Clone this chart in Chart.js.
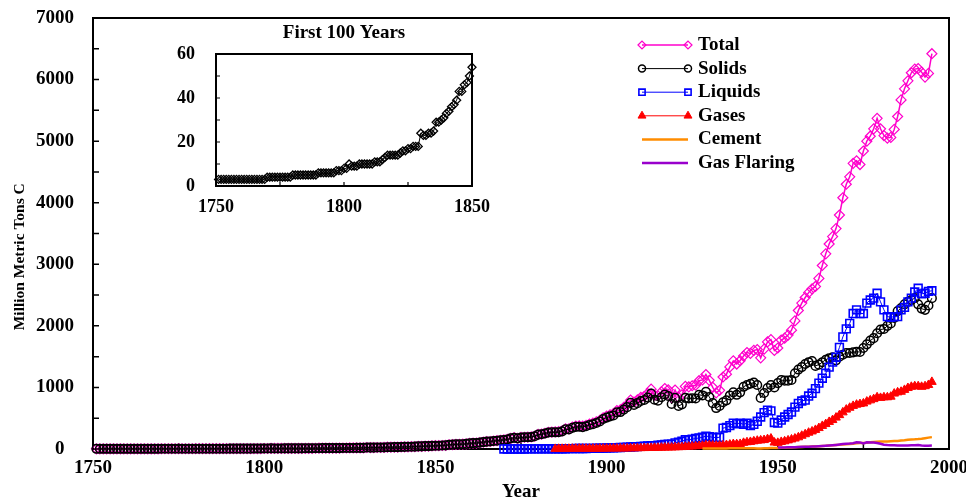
<!DOCTYPE html>
<html>
<head>
<meta charset="utf-8">
<script src="https://cdn.jsdelivr.net/npm/chart.js@4.4.0/dist/chart.umd.min.js"></script>
<style>
html, body { margin: 0; padding: 0; background: #fff; }
#wrap { position: relative; width: 966px; height: 500px; }
#wrap canvas { position: absolute; left: 0; top: 0; }
#inset { pointer-events: none; }
</style>
</head>
<body>
<div id="wrap">
  <canvas id="main" width="966" height="500"></canvas>
  <canvas id="inset" width="966" height="500"></canvas>
</div>
<script>
// ---------------- DATA (million metric tons of carbon per year) ----------------
const seriesNames = ['Total', 'Solids', 'Liquids', 'Gases', 'Cement', 'Gas Flaring'];

const totalStart = 1751;
const totalValues = [
  // 1751-1799
  3,3,3,3,3,3,3,3,3,3,3,3,3,3,3,3,3,3,3,
  4,4,4,4,4,4,4,4,4,4,
  5,5,5,5,5,5,5,5,5,5,
  6,6,6,6,6,6,6,7,7,7,
  // 1800-1850
  8,8,10,9,9,9,10,10,10,10,
  10,10,11,11,11,12,13,14,14,14,
  14,14,15,16,16,17,17,18,18,18,
  24,23,23,24,24,25,29,29,30,31,
  33,34,36,37,39,43,43,46,47,50,
  54,
  // 1851-1899
  54,57,59,69,71,76,77,78,83,91,
  95,97,104,112,119,122,130,135,142,
  147,156,173,184,174,188,191,194,196,210,
  236,243,256,272,275,277,281,295,327,327,
  356,372,374,370,383,406,419,440,465,507,
  // 1900-1949
  533,555,573,625,634,676,718,794,763,797,
  837,856,901,972,874,865,928,983,962,835,
  958,839,881,1016,1009,1027,1035,1109,1123,1210,
  1115,1002,912,953,1169,1215,1333,1432,1380,1434,
  1510,1567,1552,1601,1615,1480,1623,1739,1776,1600,
  // 1950-1995
  1640,1770,1800,1850,1930,2080,2250,2370,2460,2540,
  2600,2640,2770,2980,3170,3330,3450,3580,3800,4080,
  4300,4420,4640,4680,4620,4840,5000,5080,5200,5370,
  5200,5090,5050,5060,5190,5400,5670,5850,5980,6110,
  6170,6180,6120,6040,6100,6420
];

const solidsStart = 1751;
const solidsValues = [
  // 1751-1799
  3,3,3,3,3,3,3,3,3,3,3,3,3,3,3,3,3,3,3,
  4,4,4,4,4,4,4,4,4,4,
  5,5,5,5,5,5,5,5,5,5,
  6,6,6,6,6,6,6,7,7,7,
  // 1800-1850
  8,8,10,9,9,9,10,10,10,10,
  10,10,11,11,11,12,13,14,14,14,
  14,14,15,16,16,17,17,18,18,18,
  24,23,23,24,24,25,29,29,30,31,
  33,34,36,37,39,43,43,46,47,50,
  54,
  // 1851-1869
  54,57,59,69,71,76,77,78,83,91,
  95,97,104,112,119,122,130,135,142,
  // 1870-1899
  146,155,172,183,173,187,190,192,194,207,
  233,239,252,268,271,271,273,287,318,317,
  344,359,361,356,369,391,403,422,446,487,
  // 1900-1949
  510,530,545,595,600,640,680,750,715,745,
  780,795,835,900,800,785,840,885,860,730,
  830,700,725,830,820,825,820,880,870,930,
  845,745,665,700,760,790,870,920,880,920,
  1010,1040,1060,1080,1040,830,910,990,1040,1000,
  // 1950-1995
  1070,1120,1110,1110,1120,1230,1290,1330,1380,1410,
  1430,1350,1370,1410,1450,1475,1490,1440,1500,1530,
  1560,1560,1570,1580,1575,1640,1700,1760,1800,1880,
  1940,1950,2000,2040,2130,2240,2290,2350,2390,2420,
  2450,2350,2280,2260,2330,2450
];

const liquidsStart = 1870;
const liquidsValues = [
  // 1870-1899
  1,1,1,1,1,1,1,2,2,3,
  3,4,4,4,4,4,5,5,5,6,
  7,8,8,9,9,10,11,12,13,14,
  // 1900-1949
  16,18,20,22,25,27,28,33,36,39,
  43,46,50,54,55,60,66,75,78,80,
  100,110,125,150,150,160,170,180,190,210,
  200,190,185,190,340,350,380,420,410,420,
  400,420,380,400,450,520,590,630,620,430,
  // 1950-1995
  420,470,520,560,600,680,740,780,795,860,
  905,980,1070,1150,1230,1330,1410,1490,1650,1820,
  1950,2040,2200,2260,2200,2200,2370,2420,2450,2530,
  2390,2260,2150,2140,2150,2150,2260,2300,2390,2450,
  2550,2610,2520,2530,2560,2570
];

const gasesStart = 1885;
const gasesValues = [
  // 1885-1899
  2,3,3,4,4,5,5,5,5,5,5,5,6,6,6,
  // 1900-1949
  7,7,8,8,9,9,10,11,12,13,
  14,15,16,18,19,20,22,23,24,25,
  28,29,31,36,39,42,45,49,53,60,
  60,58,54,55,60,65,72,80,78,82,
  100,110,115,125,135,140,145,160,170,105,
  // 1950-1995
  100,115,125,140,155,170,190,215,240,265,
  285,310,340,375,405,440,470,510,550,595,
  640,670,700,720,730,740,770,790,810,840,
  830,840,840,850,900,920,930,960,990,1010,
  1020,1020,1010,1020,1040,1090
];

const cementStart = 1928;
const cementValues = [
  10,10,10,9,8,8,9,10,11,12,
  12,12,12,12,12,11,10,10,13,14,
  16,17,18,20,22,24,26,28,31,33,
  35,38,40,43,45,49,51,56,60,63,
  67,72,76,82,87,93,97,99,103,110,
  115,119,120,121,121,125,128,131,137,143,
  152,156,157,161,167,176,185,193
];

const flaringStart = 1950;
const flaringValues = [
  23,24,26,27,27,30,32,35,35,36,
  39,42,44,47,51,55,60,66,73,80,
  87,88,95,110,107,92,108,104,106,98,
  86,70,65,62,61,58,55,55,58,59,
  60,63,57,53,53,55
];

// tick labels and tick marks
const mainXTickLabels = [1750, 1800, 1850, 1900, 1950, 2000];
const mainYTickLabels = [0, 1000, 2000, 3000, 4000, 5000, 6000, 7000];
const mainXMinorMarks = [1775, 1800, 1825, 1850, 1875, 1900, 1925, 1950, 1975];
const mainYMinorMarks = [500, 1000, 1500, 2000, 2500, 3000, 3500, 4000, 4500, 5000, 5500, 6000, 6500];
const insetXTickLabels = [1750, 1800, 1850];
const insetYTickLabels = [0, 20, 40, 60];
const insetXMinorMarks = [1775, 1800, 1825];
const insetYMinorMarks = [10, 20, 30, 40, 50];
const insetYears = 100; // first 100 years of the Total series

// ---------------- helpers ----------------
const FAMILY = "'Liberation Serif', 'Times New Roman', Times, serif";
Chart.defaults.font.family = FAMILY;
Chart.defaults.color = '#000';

const toPoints = (start, vals) => vals.map((v, i) => ({ x: start + i, y: v }));
const fixedTicks = arr => (scale => { scale.ticks = arr.map(v => ({ value: v })); });

function drawMarker(ctx, style, r, x, y) {
  if (Chart.helpers && Chart.helpers.drawPoint) {
    Chart.helpers.drawPoint(ctx, { pointStyle: style, radius: r, rotation: 0, borderWidth: ctx.lineWidth }, x, y);
    return;
  }
  ctx.beginPath();
  if (style === 'circle') ctx.arc(x, y, r, 0, Math.PI * 2);
  else if (style === 'rect') { const s = r * Math.SQRT1_2; ctx.rect(x - s, y - s, 2 * s, 2 * s); }
  else if (style === 'rectRot') { ctx.moveTo(x - r, y); ctx.lineTo(x, y - r); ctx.lineTo(x + r, y); ctx.lineTo(x, y + r); ctx.closePath(); }
  else if (style === 'triangle') { ctx.moveTo(x, y - r); ctx.lineTo(x + r * 0.866, y + r / 2); ctx.lineTo(x - r * 0.866, y + r / 2); ctx.closePath(); }
  ctx.fill(); ctx.stroke();
}

const frameTicks = {
  id: 'frameTicks',
  beforeDatasetsDraw(chart, args, o) {
    const { ctx, chartArea: a, scales } = chart;
    ctx.save();
    ctx.strokeStyle = '#000';
    ctx.lineWidth = o.tickWidth;
    ctx.beginPath();
    o.xMarks.forEach(v => {
      const px = scales.x.getPixelForValue(v);
      ctx.moveTo(px, a.bottom); ctx.lineTo(px, a.bottom - o.len);
    });
    o.yMarks.forEach(v => {
      const py = scales.y.getPixelForValue(v);
      ctx.moveTo(a.left, py); ctx.lineTo(a.left + o.len, py);
    });
    ctx.stroke();
    ctx.lineWidth = o.frameWidth;
    ctx.strokeRect(a.left, a.top, a.right - a.left, a.bottom - a.top);
    ctx.restore();
  }
};

const lineLegend = {
  id: 'lineLegend',
  afterDraw(chart, args, o) {
    if (!o || !o.show) return;
    const ctx = chart.ctx;
    chart.data.datasets.forEach((ds, i) => {
      const y = o.top + i * o.rowHeight;
      const x0 = o.left, x1 = o.left + o.sample;
      ctx.save();
      ctx.strokeStyle = ds.borderColor;
      ctx.lineWidth = ds.borderWidth;
      ctx.beginPath(); ctx.moveTo(x0, y); ctx.lineTo(x1, y); ctx.stroke();
      if (ds.pointRadius > 0) {
        ctx.fillStyle = ds.pointBackgroundColor;
        ctx.strokeStyle = ds.pointBorderColor;
        ctx.lineWidth = ds.pointBorderWidth;
        [x0, x1].forEach(x => drawMarker(ctx, ds.pointStyle, o.radii[i], x, y));
      }
      ctx.fillStyle = '#000';
      ctx.font = o.font;
      ctx.textAlign = 'left';
      ctx.textBaseline = 'middle';
      ctx.fillText(ds.label, x1 + o.gap, y);
      ctx.restore();
    });
  }
};

const tickFont = size => ({ family: FAMILY, size: size, weight: 'bold' });
const HOLLOW = 'rgba(0,0,0,0)';

// ---------------- main chart ----------------
new Chart(document.getElementById('main'), {
  type: 'line',
  data: {
    datasets: [
      { label: seriesNames[0], data: toPoints(totalStart, totalValues),
        borderColor: '#ff00cc', borderWidth: 1.5, pointStyle: 'rectRot', pointRadius: 5,
        pointBorderColor: '#ff00cc', pointBackgroundColor: HOLLOW, pointBorderWidth: 1.2, order: 6 },
      { label: seriesNames[1], data: toPoints(solidsStart, solidsValues),
        borderColor: '#000000', borderWidth: 1, pointStyle: 'circle', pointRadius: 4.3,
        pointBorderColor: '#000000', pointBackgroundColor: HOLLOW, pointBorderWidth: 1.5, order: 5 },
      { label: seriesNames[2], data: toPoints(liquidsStart, liquidsValues),
        borderColor: '#0000ff', borderWidth: 1, pointStyle: 'rect', pointRadius: 5.5,
        pointBorderColor: '#0000ff', pointBackgroundColor: HOLLOW, pointBorderWidth: 1.6, order: 4 },
      { label: seriesNames[3], data: toPoints(gasesStart, gasesValues),
        borderColor: '#ff0000', borderWidth: 1, pointStyle: 'triangle', pointRadius: 5,
        pointBorderColor: '#ff0000', pointBackgroundColor: '#ff0000', pointBorderWidth: 1, order: 3 },
      { label: seriesNames[4], data: toPoints(cementStart, cementValues),
        borderColor: '#ff8c00', borderWidth: 2.5, pointRadius: 0, order: 2 },
      { label: seriesNames[5], data: toPoints(flaringStart, flaringValues),
        borderColor: '#9900cc', borderWidth: 2.5, pointRadius: 0, order: 1 }
    ].map(d => Object.assign({ clip: false, tension: 0, fill: false }, d))
  },
  options: {
    responsive: false, animation: false, devicePixelRatio: 1,
    layout: { padding: { top: 18, right: 17, left: 0, bottom: 0 } },
    plugins: {
      legend: { display: false },
      tooltip: { enabled: false },
      frameTicks: { xMarks: mainXMinorMarks, yMarks: mainYMinorMarks, len: 6, tickWidth: 1.5, frameWidth: 2 },
      lineLegend: { show: true, left: 642, top: 45, rowHeight: 23.6, sample: 46, gap: 10,
        radii: [4, 3.5, 4.4, 4.6], font: 'bold 19px ' + FAMILY }
    },
    scales: {
      x: {
        type: 'linear', min: 1750, max: 2000,
        afterBuildTicks: fixedTicks(mainXTickLabels),
        afterFit(s) { s.height = 51; s.paddingLeft = 0; s.paddingRight = 0; },
        grid: { display: false }, border: { display: false },
        ticks: { font: tickFont(19), color: '#000', padding: 0, maxRotation: 0, autoSkip: false,
          callback: v => String(v) },
        title: { display: true, text: 'Year', color: '#000', padding: 0,
          font: { family: FAMILY, size: 19, weight: 'bold', lineHeight: 0.85 } }
      },
      y: {
        type: 'linear', min: 0, max: 7000,
        afterBuildTicks: fixedTicks(mainYTickLabels),
        afterFit(s) { s.width = 93; s.paddingTop = 0; s.paddingBottom = 0; },
        grid: { display: false }, border: { display: false },
        ticks: { font: tickFont(19), color: '#000', padding: 11, autoSkip: false,
          callback: v => (v === 0 ? '0\u2002' : String(v)) },
        title: { display: true, text: 'Million Metric Tons C\u2003\u2003\u2003', color: '#000',
          padding: { top: 11, bottom: 0 },
          font: { family: FAMILY, size: 15.5, weight: 'bold' } }
      }
    }
  },
  plugins: [frameTicks, lineLegend]
});

// ---------------- inset chart: first 100 years ----------------
new Chart(document.getElementById('inset'), {
  type: 'line',
  data: {
    datasets: [
      { label: seriesNames[0], data: toPoints(totalStart, totalValues.slice(0, insetYears)),
        borderColor: '#000000', borderWidth: 1, pointStyle: 'rectRot', pointRadius: 4,
        pointBorderColor: '#000000', pointBackgroundColor: HOLLOW, pointBorderWidth: 1.3,
        clip: false, tension: 0, fill: false }
    ]
  },
  options: {
    responsive: false, animation: false, devicePixelRatio: 1,
    layout: { padding: { top: 10, right: 494, left: 0, bottom: 0 } },
    plugins: {
      legend: { display: false },
      tooltip: { enabled: false },
      title: { display: true, text: 'First 100 Years', color: '#000', fullSize: false,
        padding: { top: 11.6, bottom: 9.6 },
        font: { family: FAMILY, size: 19, weight: 'bold' } },
      frameTicks: { xMarks: insetXMinorMarks, yMarks: insetYMinorMarks, len: 4, tickWidth: 1.2, frameWidth: 2 },
      lineLegend: { show: false }
    },
    scales: {
      x: {
        type: 'linear', min: 1750, max: 1850,
        afterBuildTicks: fixedTicks(insetXTickLabels),
        afterFit(s) { s.height = 314; s.paddingLeft = 0; s.paddingRight = 0; },
        grid: { display: false }, border: { display: false },
        ticks: { font: tickFont(18), color: '#000', padding: 3, maxRotation: 0, autoSkip: false,
          callback: v => String(v) }
      },
      y: {
        type: 'linear', min: 0, max: 60,
        afterBuildTicks: fixedTicks(insetYTickLabels),
        afterFit(s) { s.width = 216; s.paddingTop = 0; s.paddingBottom = 0; },
        grid: { display: false }, border: { display: false },
        ticks: { font: tickFont(18), color: '#000', padding: 13, autoSkip: false,
          callback: v => String(v) }
      }
    }
  },
  plugins: [frameTicks]
});
</script>
</body>
</html>
